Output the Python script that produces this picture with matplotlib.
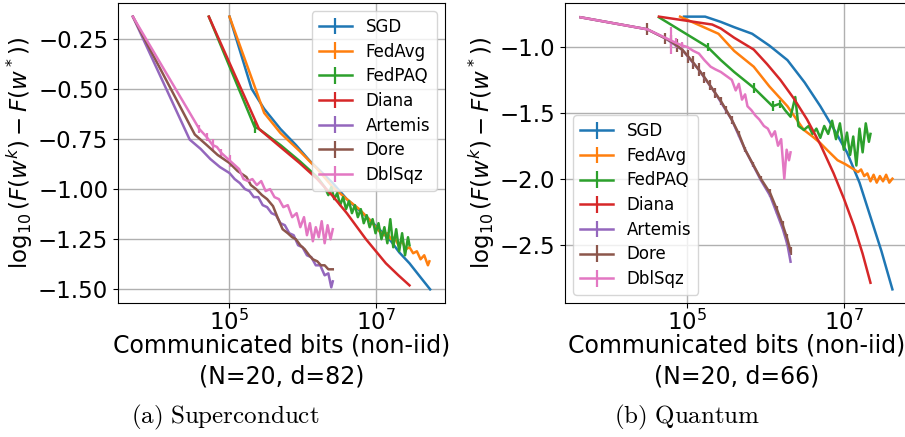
import numpy as np
import matplotlib

matplotlib.use("Agg")
import matplotlib.pyplot as plt  # noqa: E402
from matplotlib.ticker import NullLocator  # noqa: E402

# ---------------------------------------------------------------- data
# x values are log10(communicated bits)
labels = ["SGD", "FedAvg", "FedPAQ", "Diana", "Artemis", "Dore", "DblSqz"]
yticks_a = [-1.50, -1.25, -1.00, -0.75, -0.50, -0.25]
yticks_b = [-2.5, -2.0, -1.5, -1.0]

# ---- (a) Superconduct
sgd_a_lx = [5.01, 5.31, 5.48, 5.70, 5.91, 6.10, 6.41, 6.60, 6.86, 7.04, 7.20, 7.31, 7.45, 7.60, 7.73]
sgd_a_y = [-0.14, -0.50, -0.60, -0.70, -0.78, -0.86, -0.97, -1.05, -1.135, -1.20, -1.26, -1.315, -1.37, -1.44, -1.50]

fedavg_a_lx = [5.01, 5.48, 5.70, 5.96, 6.20, 6.41, 6.60, 6.77, 6.90, 7.04, 7.10, 7.15, 7.20, 7.25,
               7.30, 7.35, 7.40, 7.45, 7.50, 7.55, 7.60, 7.65, 7.70, 7.72]
fedavg_a_y = [-0.14, -0.62, -0.72, -0.81, -0.90, -0.99, -1.05, -1.10, -1.15, -1.21, -1.23, -1.22, -1.25, -1.24,
              -1.28, -1.26, -1.30, -1.29, -1.32, -1.31, -1.35, -1.33, -1.38, -1.36]

fedpaq_a_lx = [4.73, 5.35, 5.41, 5.70, 5.96, 6.20, 6.30, 6.35, 6.39, 6.43, 6.47, 6.51, 6.55, 6.59, 6.63,
               6.67, 6.71, 6.75, 6.79, 6.83, 6.87, 6.91, 6.95, 6.99, 7.03, 7.07, 7.11, 7.15, 7.19,
               7.23, 7.27, 7.31, 7.35, 7.39, 7.43, 7.45]
fedpaq_a_y = [-0.14, -0.69, -0.70, -0.78, -0.86, -0.94, -0.99, -1.03, -0.99, -1.05, -1.02, -1.08, -1.04, -1.10, -1.06,
              -1.12, -1.08, -1.14, -1.10, -1.17, -1.13, -1.19, -1.15, -1.22, -1.17, -1.25, -1.19, -1.27, -1.15,
              -1.29, -1.20, -1.31, -1.22, -1.33, -1.24, -1.28]
fedpaq_a_err = [0, 0.03] + [0] * 34

diana_a_lx = [4.73, 5.41, 5.70, 5.96, 6.20, 6.41, 6.60, 6.86, 7.13, 7.30, 7.45]
diana_a_y = [-0.14, -0.70, -0.79, -0.87, -0.95, -1.035, -1.12, -1.25, -1.37, -1.43, -1.48]

artemis_a_lx = [3.70, 4.47, 4.62, 4.75, 4.88, 5.01, 5.08, 5.15, 5.22, 5.28, 5.34, 5.40, 5.46, 5.52, 5.58,
                5.64, 5.70, 5.76, 5.82, 5.88, 5.94, 6.00, 6.06, 6.12, 6.18, 6.24, 6.30, 6.35, 6.39, 6.41]
artemis_a_y = [-0.14, -0.753, -0.80, -0.85, -0.89, -0.92, -0.95, -0.97, -1.00, -1.01, -1.04, -1.04, -1.08, -1.09, -1.12,
               -1.13, -1.17, -1.18, -1.22, -1.23, -1.28, -1.29, -1.33, -1.34, -1.38, -1.38, -1.43, -1.42, -1.49, -1.46]

dore_a_lx = [3.70, 4.54, 4.70, 4.85, 5.01, 5.12, 5.24, 5.30, 5.37, 5.45, 5.52, 5.60, 5.66, 5.73, 5.80,
             5.86, 5.91, 5.97, 6.03, 6.09, 6.14, 6.20, 6.25, 6.30, 6.35, 6.41]
dore_a_y = [-0.14, -0.728, -0.78, -0.83, -0.87, -0.91, -0.94, -0.98, -1.00, -1.03, -1.05, -1.085, -1.14, -1.20, -1.22,
            -1.24, -1.25, -1.28, -1.30, -1.33, -1.35, -1.36, -1.38, -1.38, -1.40, -1.40]

dblsqz_a_lx = [3.70, 4.60, 4.70, 4.78, 4.84, 4.90, 4.96, 5.02, 5.08, 5.14, 5.20, 5.26, 5.32, 5.38, 5.44,
               5.50, 5.56, 5.62, 5.68, 5.74, 5.80, 5.86, 5.92, 5.97, 6.02, 6.06, 6.10, 6.14, 6.18, 6.22,
               6.26, 6.30, 6.34, 6.38, 6.41]
dblsqz_a_y = [-0.14, -0.70, -0.74, -0.78, -0.79, -0.82, -0.84, -0.86, -0.88, -0.90, -0.95, -0.96, -0.95, -0.98, -0.96,
              -1.01, -1.00, -1.04, -1.05, -1.09, -1.08, -1.14, -1.12, -1.19, -1.14, -1.23, -1.17, -1.26, -1.19, -1.24,
              -1.16, -1.27, -1.18, -1.25, -1.20]
dblsqz_a_err = [0, 0.02, 0.02, 0.03, 0, 0.02, 0, 0.03] + [0] * 27

# ---- (b) Quantum
sgd_b_lx = [4.96, 5.23, 5.43, 5.60, 5.83, 6.05, 6.28, 6.50, 6.70, 6.87, 7.04, 7.20, 7.34, 7.48, 7.62]
sgd_b_y = [-0.77, -0.77, -0.81, -0.85, -0.90, -0.99, -1.10, -1.27, -1.45, -1.62, -1.80, -2.03, -2.29, -2.55, -2.84]

fedavg_b_lx = [4.91, 5.40, 5.60, 5.85, 6.05, 6.28, 6.49, 6.60, 6.70, 6.80, 6.92, 7.02, 7.13, 7.18, 7.22,
               7.26, 7.30, 7.34, 7.38, 7.42, 7.46, 7.50, 7.54, 7.58, 7.62]
fedavg_b_y = [-0.77, -0.90, -1.03, -1.15, -1.30, -1.45, -1.63, -1.68, -1.73, -1.79, -1.86, -1.89, -1.93, -1.95, -1.93,
              -1.98, -1.96, -2.02, -1.97, -2.03, -1.98, -2.02, -1.97, -2.03, -2.00]

fedpaq_b_lx = [4.64, 5.26, 5.43, 5.60, 5.85, 5.97, 6.09, 6.19, 6.25, 6.32, 6.38, 6.42, 6.49, 6.55, 6.60,
               6.65, 6.70, 6.75, 6.80, 6.85, 6.90, 6.95, 7.00, 7.04, 7.08, 7.12, 7.16, 7.20, 7.24, 7.28,
               7.32, 7.34]
fedpaq_b_y = [-0.775, -1.00, -1.10, -1.19, -1.31, -1.38, -1.45, -1.43, -1.48, -1.53, -1.38, -1.60, -1.63, -1.60, -1.66,
              -1.62, -1.69, -1.60, -1.66, -1.56, -1.70, -1.58, -1.78, -1.65, -1.82, -1.68, -1.90, -1.62, -1.80, -1.58,
              -1.72, -1.66]
fedpaq_b_err = [0, 0.03, 0, 0, 0.04, 0, 0.04, 0.03] + [0] * 24

diana_b_lx = [4.64, 5.32, 5.43, 5.60, 5.85, 6.02, 6.19, 6.36, 6.53, 6.70, 6.87, 7.00, 7.13, 7.24, 7.34]
diana_b_y = [-0.77, -0.83, -0.86, -0.93, -1.02, -1.13, -1.25, -1.39, -1.55, -1.74, -1.96, -2.15, -2.36, -2.57, -2.79]

artemis_b_lx = [3.64, 4.49, 4.72, 4.94, 5.15, 5.36, 5.57, 5.74, 5.94, 6.06, 6.15, 6.22, 6.28, 6.32]
artemis_b_y = [-0.775, -0.866, -0.934, -1.023, -1.174, -1.351, -1.553, -1.78, -2.01, -2.13, -2.27, -2.38, -2.50, -2.63]

dore_b_lx = [3.64, 4.49, 4.72, 4.80, 4.87, 4.94, 5.01, 5.08, 5.15, 5.22, 5.29, 5.36, 5.43, 5.50, 5.57,
             5.66, 5.74, 5.84, 5.94, 6.06, 6.15, 6.22, 6.28, 6.32]
dore_b_y = [-0.775, -0.866, -0.934, -0.96, -0.99, -1.023, -1.07, -1.12, -1.174, -1.23, -1.29, -1.351, -1.41, -1.48, -1.553,
            -1.66, -1.78, -1.89, -2.00, -2.11, -2.24, -2.35, -2.46, -2.55]
dore_b_err = [0, 0.045, 0.04, 0.05, 0.05, 0.05, 0.05, 0.05, 0.05, 0.04, 0.04, 0.04, 0.03, 0.03, 0.03,
              0.02, 0.02, 0.02, 0.02, 0.03, 0.03, 0.03, 0.04, 0.03]

dblsqz_b_lx = [3.64, 4.49, 4.72, 4.79, 4.86, 4.94, 5.00, 5.08, 5.15, 5.22, 5.30, 5.36, 5.43, 5.50, 5.57,
               5.62, 5.66, 5.70, 5.74, 5.77, 5.82, 5.87, 5.92, 5.98, 6.03, 6.08, 6.12, 6.16, 6.20, 6.24,
               6.27, 6.30, 6.32]
dblsqz_b_y = [-0.775, -0.866, -0.93, -0.95, -0.97, -0.99, -1.00, -1.03, -1.05, -1.10, -1.15, -1.17, -1.19, -1.22, -1.25,
              -1.33, -1.28, -1.40, -1.36, -1.45, -1.48, -1.52, -1.55, -1.60, -1.62, -1.68, -1.64, -1.75, -1.70, -2.00,
              -1.78, -1.86, -1.80]
dblsqz_b_err = [0, 0, 0, 0.10, 0.04, 0.03] + [0] * 27

panel_a = [(sgd_a_lx, sgd_a_y, 0.0), (fedavg_a_lx, fedavg_a_y, 0.0), (fedpaq_a_lx, fedpaq_a_y, fedpaq_a_err),
           (diana_a_lx, diana_a_y, 0.0), (artemis_a_lx, artemis_a_y, 0.0), (dore_a_lx, dore_a_y, 0.0),
           (dblsqz_a_lx, dblsqz_a_y, dblsqz_a_err)]
panel_b = [(sgd_b_lx, sgd_b_y, 0.0), (fedavg_b_lx, fedavg_b_y, 0.0), (fedpaq_b_lx, fedpaq_b_y, fedpaq_b_err),
           (diana_b_lx, diana_b_y, 0.0), (artemis_b_lx, artemis_b_y, 0.0), (dore_b_lx, dore_b_y, dore_b_err),
           (dblsqz_b_lx, dblsqz_b_y, dblsqz_b_err)]

# ---------------------------------------------------------------- figure
W, H = 905, 437
fig = plt.figure(figsize=(W / 100, H / 100), dpi=100)


def px_axes(left, top, right, bottom):
    return fig.add_axes([left / W, 1 - bottom / H, (right - left) / W, (bottom - top) / H])


def draw(ax, series, dims, yticks, legend_loc):
    for i, (lx, y, err) in enumerate(series):
        ax.errorbar(10 ** np.array(lx), y, yerr=err, color=f"C{i}", lw=1.8, elinewidth=1.6,
                    capsize=0, label=labels[i])
    ax.set_xscale("log")
    ax.set_xticks([1e5, 1e7])
    ax.xaxis.set_minor_locator(NullLocator())
    ax.set_yticks(yticks)
    ax.grid(True, color="#b0b0b0", lw=1.0)
    ax.tick_params(labelsize=16.5)
    ax.tick_params(axis="x", pad=1)
    ax.set_xlabel(f"Communicated bits (non-iid)\n{dims}", fontsize=17, labelpad=-1,
                  linespacing=1.4)
    ax.set_ylabel(r"$\log_{10}(F(w^k) - F(w^*))$", fontsize=16.5, labelpad=2)
    ax.legend(loc=legend_loc, fontsize=12, handlelength=2.0, labelspacing=0.4)


ax_a = px_axes(118, 3, 445, 303)
draw(ax_a, panel_a, "(N=20, d=82)", yticks_a, "upper right")
ax_b = px_axes(565, 3, 908, 303)
draw(ax_b, panel_b, "(N=20, d=66)", yticks_b, "lower left")

fig.text(225 / W, 1 - 417 / H, r"$\mathrm{(a)\ Superconduct}$", ha="center", va="center",
         fontsize=18, math_fontfamily="cm")
fig.text(687 / W, 1 - 417 / H, r"$\mathrm{(b)\ Quantum}$", ha="center", va="center",
         fontsize=18, math_fontfamily="cm")

fig.savefig("out.png", dpi=100)
